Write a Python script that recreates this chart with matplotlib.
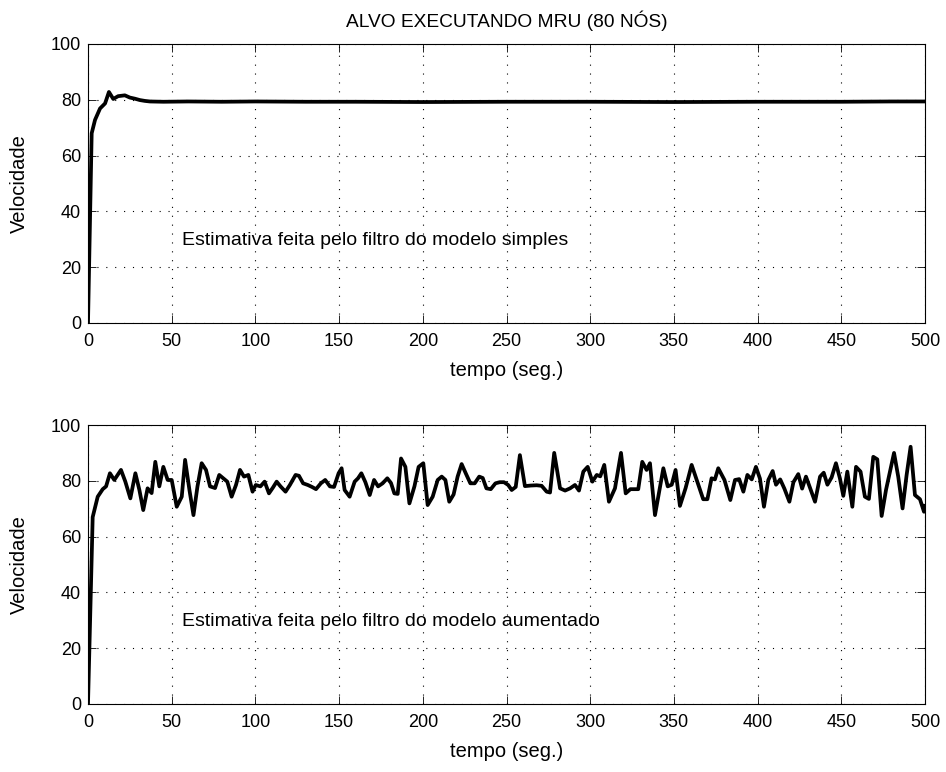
import matplotlib
matplotlib.use("Agg")
import matplotlib.pyplot as plt

# ---- data ----
t_simple = [0, 2.2, 4.2, 7.2, 10.2, 12.5, 15.1, 18, 22, 25, 28, 31, 34, 37, 45, 60, 80,
            100, 130, 160, 200, 250, 300, 350, 400, 450, 480, 500]
v_simple = [0, 68, 72.8, 76.9, 78.7, 82.8, 80.3, 81.3, 81.6, 80.8, 80.4, 79.9, 79.6, 79.4,
            79.3, 79.4, 79.3, 79.4, 79.3, 79.3, 79.2, 79.3, 79.3, 79.2, 79.3, 79.3, 79.4, 79.4]

t_aug = [0, 2.8, 5.8, 8.8, 10.8, 13.1, 15.7, 19.7, 22.3, 25.3,
         28.3, 30.7, 33, 35.6, 38, 40.2, 42.6, 45, 47.6, 50,
         53, 56, 58, 60.6, 63, 65.4, 67.9, 70.5, 72.9, 75.9,
         78.4, 80.8, 83.2, 85.8, 88.4, 90.8, 93.2, 95.8, 98.3, 100.2,
         103, 105.5, 108.1, 110.4, 112.7, 115, 118, 120.6, 124, 126,
         128.5, 131.3, 133.8, 136.2, 139.1, 141.7, 144.5, 147, 149.7, 151.5,
         153.3, 156.3, 159.3, 161.3, 163.3, 165.7, 168.3, 170.9, 173.3, 176,
         178.8, 181, 183, 185, 187, 189.6, 192, 195, 197.5, 200.3,
         202.9, 205.9, 208.9, 211.3, 213.5, 215.8, 218.4, 220.8, 223.2, 225.8,
         228.4, 231, 233.7, 235.8, 238, 240.6, 243.4, 246, 248.5, 251,
         253.1, 255.5, 258, 261, 264.5, 268, 271, 274, 276, 278.5,
         282, 285, 288, 290.9, 293.3, 295.9, 298.5, 301.3, 303.9, 306,
         308.4, 311.2, 314.8, 318.4, 321.2, 324, 328.7, 331.1, 333.7, 335.7,
         338.7, 343.7, 346.3, 348.7, 351, 353.6, 357, 360.6, 363.6, 367.5,
         370, 372.5, 374.5, 376.5, 380.2, 383.7, 386.5, 389, 391.5, 393.9,
         396.5, 399, 401.4, 403.8, 406.4, 409, 411, 413.5, 416, 419,
         421.4, 424.3, 426.6, 428.9, 431.5, 434.3, 437.3, 439.5, 441.7, 444.2,
         446.8, 449.2, 451.2, 453.6, 456.6, 458.8, 461.5, 464.1, 466.5, 469.1,
         471.5, 474.1, 476.7, 479, 481.5, 484, 486.6, 489, 491.4, 494,
         497, 499.4, 500]
v_aug = [0, 67, 74.3, 77, 78, 82.7, 80.3, 83.9, 79.7, 73.7,
         82.7, 76.7, 69.5, 77.3, 75.6, 86.8, 78, 85, 80.3, 80.3,
         70.7, 74.3, 87.5, 76.7, 67.7, 78, 86.3, 83.9, 78, 77.4,
         82.1, 80.9, 79.7, 74.3, 78.5, 83.9, 81.5, 82.1, 76.1, 78.5,
         78, 79.7, 75.5, 77.5, 79.7, 78, 76.1, 78.5, 82.1, 81.8,
         79.1, 78.5, 77.8, 77, 79.1, 80.3, 78, 77.8, 82.7, 84.5,
         76.7, 74.3, 79.7, 80.9, 82.7, 79.5, 74.9, 80.3, 78, 79.1,
         80.9, 79.2, 75.5, 75.3, 88, 85, 71.9, 78, 85, 86.3,
         71.3, 74.3, 80.3, 81.5, 80.3, 72.5, 75.1, 81.5, 86, 82.5,
         79.1, 79.1, 81.5, 81, 77.3, 77, 79.1, 79.5, 79.5, 78.5,
         76.7, 77.8, 89.2, 78.1, 78.3, 78.4, 78.2, 76.1, 75.8, 90,
         77.3, 76.5, 77.3, 78.5, 76.5, 83.3, 85, 79.7, 82.1, 81.6,
         85.7, 72.5, 77.3, 90, 75.5, 77, 77, 86.8, 83.9, 86.3,
         67.7, 84.5, 78, 78.6, 83.9, 71, 77.4, 85.7, 80.3, 73.4,
         73.4, 80.9, 80.5, 84.5, 80.3, 73.1, 80.3, 80.6, 76.1, 82.1,
         80.5, 85, 80.8, 70.7, 80.3, 83.5, 78.6, 80.5, 77.2, 72.5,
         79.5, 82.4, 77.2, 81.5, 77.2, 72.5, 81.5, 82.9, 78.6, 81.2,
         86.3, 80.8, 74.6, 83.3, 70.7, 85, 83.3, 74.3, 73.5, 88.6,
         87.7, 67.4, 76.7, 83, 90, 81.5, 70.1, 82, 92.2, 74.9,
         73.4, 68.9, 71]

x_ticks = [0, 50, 100, 150, 200, 250, 300, 350, 400, 450, 500]
y_ticks = [0, 20, 40, 60, 80, 100]
title_text = "ALVO EXECUTANDO MRU (80 NÓS)"
label_simple = "Estimativa feita pelo filtro do modelo simples"
label_aug = "Estimativa feita pelo filtro do modelo aumentado"
xlabel_text = "tempo (seg.)"
ylabel_text = "Velocidade"

plt.rcParams['font.family'] = ['Liberation Sans', 'DejaVu Sans']

fig = plt.figure(figsize=(9.46, 7.72), dpi=100)
W, H = 946, 772
ax1 = fig.add_axes([88 / W, 1 - 323 / H, (925 - 88) / W, (323 - 44) / H])
ax2 = fig.add_axes([88 / W, 1 - 704 / H, (925 - 88) / W, (704 - 425) / H])

for ax, t, v, lab in [(ax1, t_simple, v_simple, label_simple),
                      (ax2, t_aug, v_aug, label_aug)]:
    ax.plot(t, v, color='black', lw=2.7, solid_joinstyle='round')
    ax.set_xlim(0, 500)
    ax.set_ylim(0, 100)
    ax.set_xticks(x_ticks)
    ax.set_yticks(y_ticks)
    ax.grid(True, color='black', linestyle=(0, (1, 7)), linewidth=0.8)
    ax.tick_params(direction='in', top=True, right=True, length=6, width=0.6,
                   labelsize=13, pad=5)
    ax.tick_params(axis='x', pad=7)
    for s in ax.spines.values():
        s.set_linewidth(0.8)
    ax.set_xlabel(xlabel_text, fontsize=14.5, labelpad=8)
    ax.set_ylabel(ylabel_text, fontsize=14.5)
    ax.yaxis.set_label_coords((28.5 - 88) / 837, 0.5)
    ax.text(56, 29.5, lab, fontsize=14, va='center', ha='left')

ax1.set_title(title_text, fontsize=13.8, pad=12)

fig.savefig("out.png", dpi=100)
